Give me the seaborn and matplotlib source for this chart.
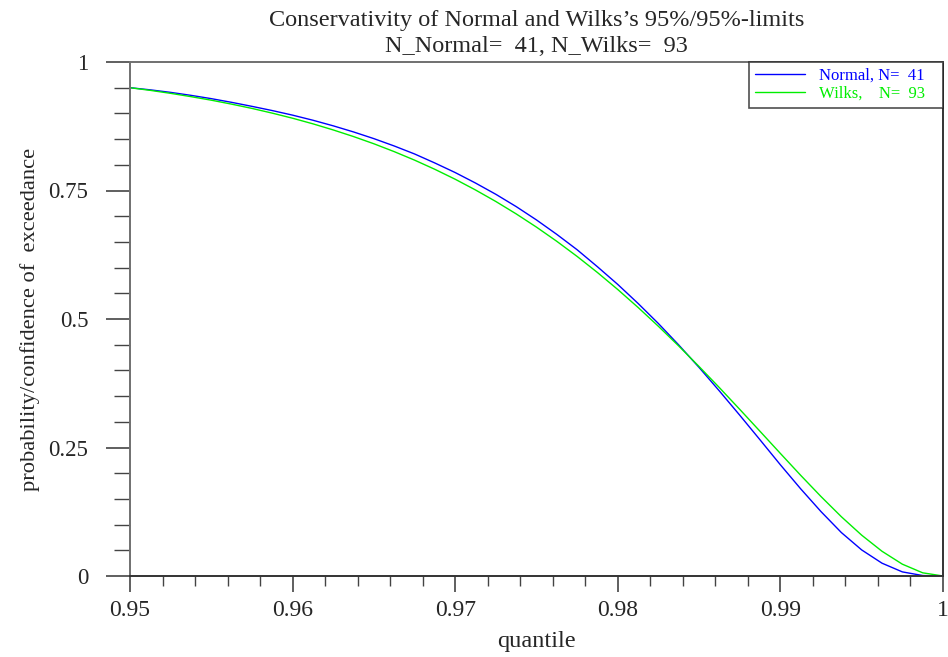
import numpy as np
import pandas as pd
import matplotlib
matplotlib.use("Agg")
import matplotlib.pyplot as plt
from matplotlib.ticker import MultipleLocator, FixedLocator
import seaborn as sns

# ---- data ----
quantile = [0.95, 0.95125, 0.9525, 0.95375, 0.955, 0.95625, 0.9575, 0.95875,
            0.96, 0.96125, 0.9625, 0.96375, 0.965, 0.96625, 0.9675, 0.96875,
            0.97, 0.97125, 0.9725, 0.97375, 0.975, 0.97625, 0.9775, 0.97875,
            0.98, 0.98125, 0.9825, 0.98375, 0.985, 0.98625, 0.9875, 0.98875,
            0.99, 0.99125, 0.9925, 0.99375, 0.995, 0.99625, 0.9975, 0.99875, 1.0]
normal_conf = [0.9500, 0.9458, 0.9409, 0.9351, 0.9287, 0.9215, 0.9137, 0.9055,
               0.8966, 0.8867, 0.8758, 0.8639, 0.8509, 0.8366, 0.8211, 0.8035,
               0.7849, 0.7645, 0.7426, 0.7187, 0.6927, 0.6646, 0.6347, 0.6016,
               0.5672, 0.5302, 0.4911, 0.4494, 0.4057, 0.3599, 0.3128, 0.2648,
               0.2163, 0.1695, 0.1252, 0.0845, 0.0507, 0.0249, 0.0080, 0.0009, 0.0]
wilks_conf = [0.9500, 0.9448, 0.9390, 0.9326, 0.9257, 0.9180, 0.9097, 0.9005,
              0.8906, 0.8797, 0.8678, 0.8549, 0.8409, 0.8256, 0.8091, 0.7912,
              0.7719, 0.7510, 0.7286, 0.7045, 0.6787, 0.6511, 0.6217, 0.5904,
              0.5573, 0.5224, 0.4857, 0.4474, 0.4075, 0.3664, 0.3242, 0.2814,
              0.2384, 0.1958, 0.1545, 0.1153, 0.0794, 0.0481, 0.0230, 0.0062, 0.0]
series_labels = ["Normal, N=  41", "Wilks,    N=  93"]
series_colors = ["#0000ff", "#00ee00"]
x_ticks = [0.95, 0.96, 0.97, 0.98, 0.99, 1.0]
x_ticklabels = ["0.95", "0.96", "0.97", "0.98", "0.99", "1"]
y_ticks = [0, 0.25, 0.5, 0.75, 1]
y_ticklabels = ["0", "0.25", "0.5", "0.75", "1"]
title = "Conservativity of Normal and Wilks\u2019s 95%/95%-limits\nN_Normal=  41, N_Wilks=  93"
xlabel = "quantile"
ylabel = "probability/confidence of  exceedance"

df = pd.DataFrame({
    "quantile": quantile * 2,
    "conf": normal_conf + wilks_conf,
    "series": [series_labels[0]] * len(quantile) + [series_labels[1]] * len(quantile),
})

sns.set_style("white")
plt.rcParams["font.family"] = ["Liberation Serif", "DejaVu Serif"]

fig = plt.figure(figsize=(9.48, 6.57), dpi=100)
ax = fig.add_axes([130 / 948, 1 - 576 / 657, (943 - 130) / 948, (576 - 62) / 657])

sns.lineplot(data=df, x="quantile", y="conf", hue="series",
             palette=dict(zip(series_labels, series_colors)),
             linewidth=1.0, ax=ax, legend=True)

ax.set_xlim(0.95, 1.0)
ax.set_ylim(0, 1)

ax.xaxis.set_major_locator(FixedLocator(x_ticks))
ax.set_xticklabels(x_ticklabels)
ax.xaxis.set_minor_locator(MultipleLocator(0.002))
ax.yaxis.set_major_locator(FixedLocator(y_ticks))
ax.set_yticklabels(y_ticklabels)
ax.yaxis.set_minor_locator(MultipleLocator(0.05))

ax.tick_params(axis="x", which="major", direction="out", length=11.5, width=1.2,
               color="#444444", labelsize=17, pad=6, bottom=True)
ax.tick_params(axis="x", which="minor", direction="out", length=7.2, width=1.0,
               color="#444444", bottom=True)
ax.tick_params(axis="y", which="major", direction="out", length=17, width=1.2,
               color="#444444", labelsize=16.5, pad=13, left=True)
ax.tick_params(axis="y", which="minor", direction="out", length=11.5, width=1.0,
               color="#444444", left=True)

for name, sp in ax.spines.items():
    sp.set_visible(True)
    sp.set_linewidth(1.4)
ax.spines["left"].set_color("#707070")
ax.spines["top"].set_color("#707070")
ax.spines["bottom"].set_color("#333333")
ax.spines["right"].set_color("#333333")

ax.set_xlabel(xlabel, fontsize=17.5, labelpad=7)
ax.set_ylabel(ylabel, fontsize=16.2, labelpad=6)
ax.set_title(title, fontsize=17.5, pad=7, linespacing=1.35)

handles, labels = ax.get_legend_handles_labels()
labels = [l + "   " for l in labels]
leg = ax.legend(handles, labels, loc="upper right", bbox_to_anchor=(1.0, 1.0),
                borderaxespad=0, frameon=True, fancybox=False, fontsize=12,
                handlelength=3.0, handletextpad=0.8, labelspacing=0.12,
                borderpad=0.36, labelcolor="linecolor")
leg.get_frame().set_edgecolor("#222222")
leg.get_frame().set_linewidth(1.2)

fig.savefig("out.png", dpi=100)
